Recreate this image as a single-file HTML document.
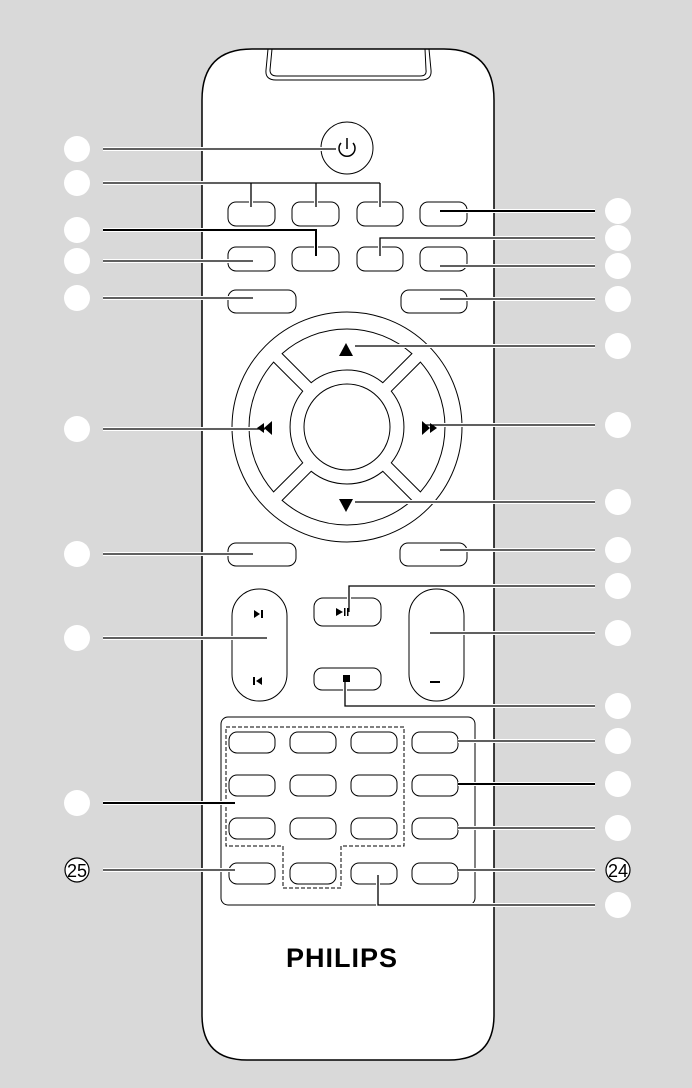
<!DOCTYPE html>
<html><head><meta charset="utf-8"><style>
html,body{margin:0;padding:0;background:#d9d9d9;}
svg{display:block;}
</style></head><body>
<svg width="692" height="1088" viewBox="0 0 692 1088" xmlns="http://www.w3.org/2000/svg" font-family="Liberation Sans, sans-serif">
<rect width="692" height="1088" fill="#d9d9d9"/>
<path d="M252,49 L444,49 Q494,49 494,100 L494,1015 Q494,1060 449,1060 L247,1060 Q202,1060 202,1015 L202,100 Q202,49 252,49 Z" fill="#fff" stroke="#000" stroke-width="1.5"/>
<path d="M268,49 L266,70 Q265,80 276,80 L421,80 Q432,80 431,70 L429,49" fill="none" stroke="#000" stroke-width="1"/>
<path d="M272,49 L270,70 Q270,76 277,76 L420,76 Q427,76 426,70 L425,49" fill="none" stroke="#000" stroke-width="1"/>
<g fill="#fff" stroke="#000" stroke-width="1">
<circle cx="347" cy="148" r="26"/>
<rect x="228" y="202" width="47" height="24" rx="8"/>
<rect x="292" y="202" width="47" height="24" rx="8"/>
<rect x="357" y="202" width="46" height="24" rx="8"/>
<rect x="420" y="202" width="47" height="24" rx="8"/>
<rect x="228" y="247" width="47" height="24" rx="8"/>
<rect x="292" y="247" width="47" height="24" rx="8"/>
<rect x="357" y="247" width="46" height="24" rx="8"/>
<rect x="420" y="247" width="47" height="24" rx="8"/>
<rect x="228" y="290" width="68" height="23" rx="8"/>
<rect x="401" y="290" width="66" height="23" rx="8"/>
<circle cx="347" cy="427" r="115"/>
<path d="M282.1,353.6 A98,98 0 0 1 411.9,353.6 L382.8,382.7 A57,57 0 0 0 311.2,382.7 Z"/>
<path d="M420.4,362.1 A98,98 0 0 1 420.4,491.9 L391.3,462.8 A57,57 0 0 0 391.3,391.2 Z"/>
<path d="M411.9,500.4 A98,98 0 0 1 282.1,500.4 L311.2,471.3 A57,57 0 0 0 382.8,471.3 Z"/>
<path d="M273.6,491.9 A98,98 0 0 1 273.6,362.1 L302.7,391.2 A57,57 0 0 0 302.7,462.8 Z"/>
<circle cx="347" cy="427" r="43"/>
<rect x="228" y="543" width="68" height="23" rx="8"/>
<rect x="400" y="543" width="67" height="23" rx="8"/>
<rect x="232" y="589" width="55" height="112" rx="27"/>
<rect x="314" y="598" width="67" height="28" rx="9"/>
<rect x="314" y="668" width="67" height="22" rx="8"/>
<rect x="409" y="589" width="55" height="112" rx="27"/>
<rect x="221" y="717" width="254" height="188" rx="7"/>
</g>
<g fill="#fff" stroke="#000" stroke-width="1">
<rect x="229" y="732" width="46" height="21" rx="8"/><rect x="290" y="732" width="46" height="21" rx="8"/><rect x="351" y="732" width="46" height="21" rx="8"/><rect x="412" y="732" width="46" height="21" rx="8"/>
<rect x="229" y="775" width="46" height="21" rx="8"/><rect x="290" y="775" width="46" height="21" rx="8"/><rect x="351" y="775" width="46" height="21" rx="8"/><rect x="412" y="775" width="46" height="21" rx="8"/>
<rect x="229" y="818" width="46" height="21" rx="8"/><rect x="290" y="818" width="46" height="21" rx="8"/><rect x="351" y="818" width="46" height="21" rx="8"/><rect x="412" y="818" width="46" height="21" rx="8"/>
<rect x="229" y="863" width="46" height="21" rx="8"/><rect x="290" y="863" width="46" height="21" rx="8"/><rect x="351" y="863" width="46" height="21" rx="8"/><rect x="412" y="863" width="46" height="21" rx="8"/>
</g>
<path d="M226,727 L404,727 L404,846 L341,846 L341,888 L283,888 L283,846 L226,846 Z" fill="none" stroke="#000" stroke-width="1" stroke-dasharray="4,2"/>
<text x="342" y="967" text-anchor="middle" font-size="27" font-weight="bold" letter-spacing="1">PHILIPS</text>
<g fill="none">
<g stroke="#fff" stroke-width="4">
<path d="M103,149 H336"/><path d="M103,183 H380 M251,183 V207 M316,183 V207 M380,183 V207"/>
<path d="M103,230 H316 V256"/><path d="M103,261 H253"/><path d="M103,298 H253"/>
<path d="M440,211 H595"/><path d="M380,256 V238 H595"/><path d="M440,266 H595"/><path d="M440,299 H595"/>
<path d="M355,346 H595"/><path d="M424,425 H595"/><path d="M355,502 H595"/><path d="M103,429 H265"/>
<path d="M103,554 H253"/><path d="M440,550 H595"/><path d="M103,638 H267"/>
<path d="M349,612 V586 H595"/><path d="M430,633 H595"/><path d="M345,680 V706 H595"/>
<path d="M458,741 H595"/><path d="M458,784 H595"/><path d="M458,828 H595"/><path d="M458,870 H595"/>
<path d="M378,875 V905 H595"/><path d="M103,803 H235"/><path d="M103,870 H235"/>
</g>
<g stroke="#000" stroke-width="1.3">
<path d="M103,149 H336"/><path d="M103,183 H380 M251,183 V207 M316,183 V207 M380,183 V207"/>
<path d="M103,230 H316 V256" stroke-width="2"/><path d="M103,261 H253"/><path d="M103,298 H253"/>
<path d="M440,211 H595" stroke-width="2"/><path d="M380,256 V238 H595"/><path d="M440,266 H595"/><path d="M440,299 H595"/>
<path d="M355,346 H595"/><path d="M424,425 H595"/><path d="M355,502 H595"/><path d="M103,429 H265"/>
<path d="M103,554 H253"/><path d="M440,550 H595"/><path d="M103,638 H267"/>
<path d="M349,612 V586 H595"/><path d="M430,633 H595"/><path d="M345,680 V706 H595"/>
<path d="M458,741 H595"/><path d="M458,784 H595" stroke-width="2"/><path d="M458,828 H595"/><path d="M458,870 H595"/>
<path d="M378,875 V905 H595"/><path d="M103,803 H235" stroke-width="2"/><path d="M103,870 H235"/>
</g>
</g>
<!-- icons drawn on top -->
<path d="M341,143 A8,8 0 1 0 353,143" fill="none" stroke="#000" stroke-width="1.5"/>
<line x1="347" y1="138" x2="347" y2="149" stroke="#000" stroke-width="1.5"/>
<polygon points="346,343 339,356 353,356" fill="#000"/>
<polygon points="346,512 339,499 353,499" fill="#000"/>
<polygon points="264,428 272,421 272,435" fill="#000"/>
<polygon points="257,428 264,423 264,433" fill="#000"/>
<polygon points="430,428 422,421 422,435" fill="#000"/>
<polygon points="437,428 430,423 430,433" fill="#000"/>
<polygon points="254,610 254,618 260,614" fill="#000"/><rect x="261" y="610" width="2" height="8" fill="#000"/>
<rect x="253" y="677" width="2" height="8" fill="#000"/><polygon points="262,677 262,685 256,681" fill="#000"/>
<polygon points="336,608 336,616 343,612" fill="#000"/><rect x="344" y="608" width="1.5" height="8" fill="#000"/><rect x="347" y="608" width="1.5" height="8" fill="#000"/>
<rect x="343" y="675" width="7" height="7" fill="#000"/>
<rect x="430" y="681" width="10" height="2" fill="#000"/>
<g fill="#fff">
<circle cx="77" cy="149" r="13"/><circle cx="77" cy="183" r="13"/><circle cx="77" cy="230" r="13"/><circle cx="77" cy="261" r="13"/><circle cx="77" cy="298" r="13"/>
<circle cx="77" cy="429" r="13"/><circle cx="77" cy="554" r="13"/><circle cx="77" cy="638" r="13"/><circle cx="77" cy="803" r="13"/>
<circle cx="618" cy="211" r="13"/><circle cx="618" cy="238" r="13"/><circle cx="618" cy="266" r="13"/><circle cx="618" cy="299" r="13"/>
<circle cx="618" cy="346" r="13"/><circle cx="618" cy="425" r="13"/><circle cx="618" cy="502" r="13"/><circle cx="618" cy="550" r="13"/>
<circle cx="618" cy="586" r="13"/><circle cx="618" cy="633" r="13"/><circle cx="618" cy="706" r="13"/><circle cx="618" cy="741" r="13"/>
<circle cx="618" cy="784" r="13"/><circle cx="618" cy="828" r="13"/><circle cx="618" cy="905" r="13"/>
</g>
<circle cx="77" cy="870" r="12" fill="#fff" stroke="#000" stroke-width="1.2"/>
<text x="77" y="877" text-anchor="middle" font-size="18">25</text>
<circle cx="618" cy="870" r="12" fill="#fff" stroke="#000" stroke-width="1.2"/>
<text x="618" y="877" text-anchor="middle" font-size="18">24</text>
</svg>
</body></html>
